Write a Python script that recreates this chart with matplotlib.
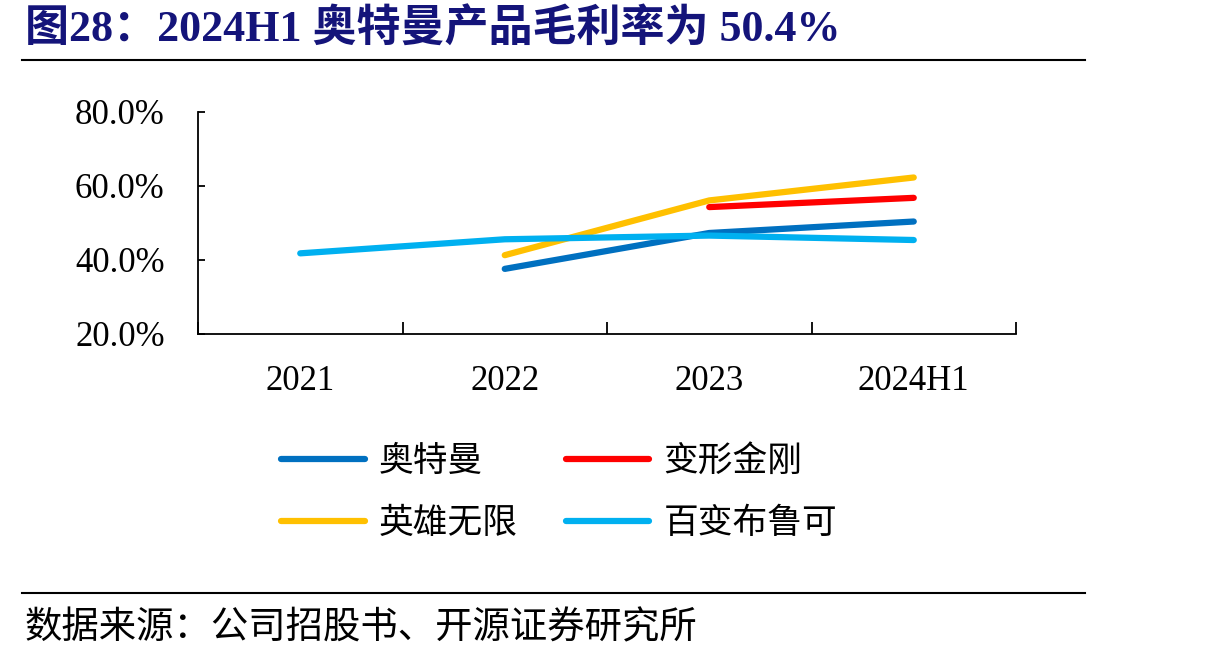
"""
2024H1 gross margin comparison chart
"""

import numpy as np
import matplotlib
matplotlib.use('Agg')
import matplotlib.pyplot as plt
from matplotlib.lines import Line2D

# data
years = ['2021', '2022', '2023', '2024H1']
ultraman = [np.nan, 37.6, 47.3, 50.4]
transformers = [np.nan, np.nan, 54.3, 56.8]
hero = [np.nan, 41.3, 56.1, 62.3]
blokees = [41.8, 45.6, 46.6, 45.4]

names = ['奥特曼', '变形金刚', '英雄无限', '百变布鲁可']
colors = ['#0070C0', '#FF0000', '#FFC000', '#00B0F0']
yticks = [20, 40, 60, 80]

num_font = ['Liberation Serif', 'Noto Sans CJK SC']
cjk_font = ['Noto Sans CJK SC', 'DejaVu Sans']

fig = plt.figure(figsize=(12.1, 6.59), dpi=100)
ax = fig.add_axes([198 / 1210, 1 - 334 / 659, (1016 - 198) / 1210, (334 - 112) / 659])

x = np.arange(len(years))
for vals, col, name in zip([ultraman, transformers, hero, blokees], colors, names):
    ax.plot(x, vals, color=col, lw=4.5, solid_capstyle='round', label=name)

ax.set_xlim(-0.5, 3.5)
ax.set_ylim(20, 80)
ax.set_yticks(yticks)
ax.set_yticklabels([f'{v:.1f}%' for v in yticks], fontfamily=num_font, fontsize=25)
ax.set_xticks(x)
ax.set_xticklabels(years, fontfamily=num_font, fontsize=25)
ax.set_xticks(np.arange(-0.5, 4, 1), minor=True)
ax.tick_params(axis='x', which='major', length=0, pad=22)
ax.tick_params(axis='x', which='minor', direction='in', length=9, width=1.3)
ax.tick_params(axis='y', direction='in', length=5, width=1.3, pad=24)
for s in ['top', 'right']:
    ax.spines[s].set_visible(False)
for s in ['left', 'bottom']:
    ax.spines[s].set_linewidth(1.3)

# legend, two columns filled column-wise
order = [0, 2, 1, 3]
handles = [Line2D([], [], color=colors[i], lw=4.5, solid_capstyle='round') for i in order]
labels = [names[i] for i in order]
fig.legend(handles, labels, ncol=2, loc='upper left', bbox_to_anchor=(250 / 1210, 1 - 413 / 659),
           frameon=False, prop={'family': cjk_font, 'size': 25}, handlelength=2.4,
           handletextpad=0.4, columnspacing=1.4, labelspacing=0.78)

# title and rules
fig.text(25 / 1210, 1 - 30 / 659, '图28：2024H1 奥特曼产品毛利率为 50.4%', fontsize=31.7,
         fontweight='bold', color='#14147A', family=num_font, va='center', ha='left')
fig.add_artist(Line2D([22 / 1210, 1085 / 1210], [1 - 60 / 659] * 2, color='black', lw=1.5))
fig.add_artist(Line2D([22 / 1210, 1085 / 1210], [1 - 593 / 659] * 2, color='black', lw=1.5))
fig.text(25 / 1210, 1 - 628 / 659, '数据来源：公司招股书、开源证券研究所', fontsize=26.9,
         family=cjk_font, va='center', ha='left')

fig.savefig('out.png', dpi=100)
